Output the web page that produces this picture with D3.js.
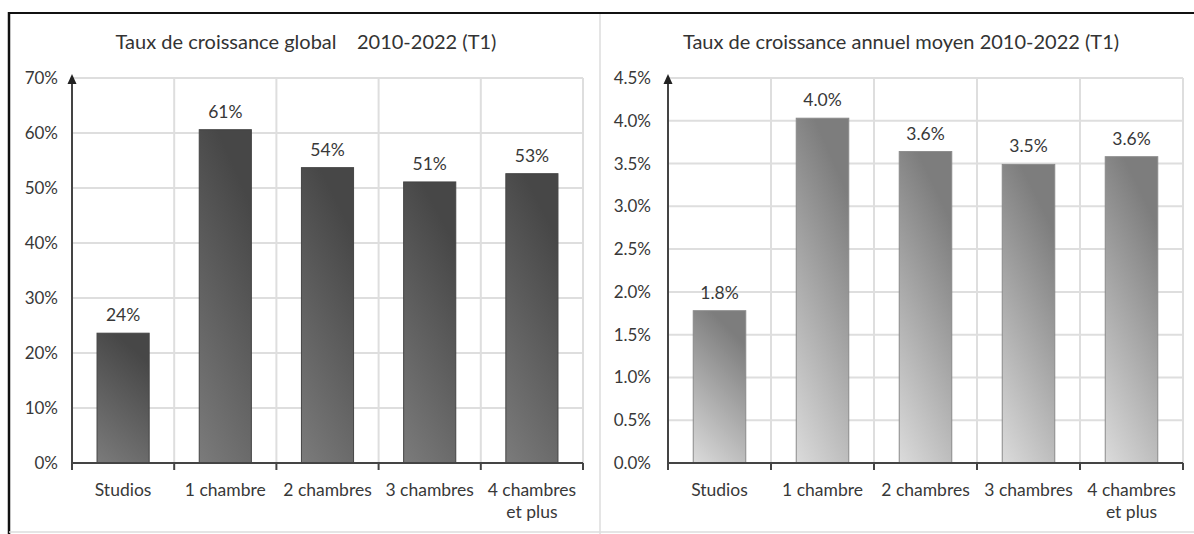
<!DOCTYPE html>
<html>
<head>
<meta charset="utf-8">
<script src="https://cdn.jsdelivr.net/npm/d3@7"></script>
<style>
  body { margin: 0; background: #fff; }
  svg { display: block; font-family: Lato, "Open Sans", sans-serif; }
</style>
</head>
<body>
<div id="chart"></div>
<script>
// data
const categories = ["Studios", "1 chambre", "2 chambres", "3 chambres", "4 chambres et plus"];
const categoryLines = [["Studios"], ["1 chambre"], ["2 chambres"], ["3 chambres"], ["4 chambres", "et plus"]];

const globalGrowth = [0.236, 0.606, 0.537, 0.511, 0.526];
const annualGrowth = [0.0178, 0.0403, 0.0364, 0.0349, 0.0358];

const globalTicks = [0, 0.1, 0.2, 0.3, 0.4, 0.5, 0.6, 0.7];
const annualTicks = [0, 0.005, 0.01, 0.015, 0.02, 0.025, 0.03, 0.035, 0.04, 0.045];

const titleGlobal = "Taux de croissance global\u00a0\u00a0\u00a0 2010-2022 (T1)";
const titleAnnual = "Taux de croissance annuel moyen 2010-2022 (T1)";

const W = 1194, H = 534;
const textColor = "#383838";

const svg = d3.select("#chart").append("svg")
  .attr("width", W)
  .attr("height", H);

const defs = svg.append("defs");

function addGradient(id, top, bottom) {
  const g = defs.append("linearGradient")
    .attr("id", id)
    .attr("x1", 0.35).attr("y1", 0)
    .attr("x2", 0).attr("y2", 1);
  g.append("stop").attr("offset", "0%").attr("stop-color", top);
  g.append("stop").attr("offset", "100%").attr("stop-color", bottom);
}
addGradient("gradDark", "#474747", "#7b7b7b");
addGradient("gradLight", "#7d7d7d", "#dbdbdb");

// frame around the two charts
svg.append("line").attr("x1", 8).attr("x2", W).attr("y1", 13).attr("y2", 13)
  .attr("stroke", "#111").attr("stroke-width", 2);
svg.append("line").attr("x1", 9).attr("x2", 9).attr("y1", 12).attr("y2", H)
  .attr("stroke", "#111").attr("stroke-width", 2.5);
svg.append("line").attr("x1", 9).attr("x2", W).attr("y1", 532).attr("y2", 532)
  .attr("stroke", "#dcdcdc").attr("stroke-width", 1.5);
svg.append("line").attr("x1", 600).attr("x2", 600).attr("y1", 14).attr("y2", H)
  .attr("stroke", "#dcdcdc").attr("stroke-width", 1.5);

function drawChart(cfg) {
  const top = 78, bottom = 463;

  const xScale = d3.scaleBand()
    .domain(categories)
    .range([cfg.left, cfg.right])
    .padding(0);

  const yScale = d3.scaleLinear()
    .domain([0, cfg.max])
    .range([bottom, top]);

  const g = svg.append("g");

  // title
  g.append("text")
    .attr("x", cfg.titleX)
    .attr("y", 49)
    .attr("text-anchor", "middle")
    .attr("font-size", 20)
    .attr("fill", "#333")
    .text(cfg.title);

  // horizontal gridlines
  g.append("g")
    .selectAll("line")
    .data(cfg.ticks.slice(1))
    .enter()
    .append("line")
    .attr("x1", cfg.left).attr("x2", cfg.right)
    .attr("y1", (d) => yScale(d)).attr("y2", (d) => yScale(d))
    .attr("stroke", "#dedede").attr("stroke-width", 2);

  // vertical gridlines at category boundaries
  const bounds = categories.slice(1).map((c) => xScale(c)).concat([cfg.right]);
  g.append("g")
    .selectAll("line")
    .data(bounds)
    .enter()
    .append("line")
    .attr("x1", (d) => d).attr("x2", (d) => d)
    .attr("y1", top).attr("y2", bottom)
    .attr("stroke", "#dedede").attr("stroke-width", 2);

  // bars
  const barW = xScale.bandwidth() * 0.51;
  g.append("g")
    .selectAll("rect")
    .data(cfg.values)
    .enter()
    .append("rect")
    .attr("x", (d, i) => xScale(categories[i]) + (xScale.bandwidth() - barW) / 2)
    .attr("y", (d) => yScale(d))
    .attr("width", barW)
    .attr("height", (d) => bottom - yScale(d))
    .attr("fill", `url(#${cfg.gradient})`)
    .attr("stroke", cfg.barStroke)
    .attr("stroke-width", 1);

  // value labels
  g.append("g")
    .selectAll("text")
    .data(cfg.values)
    .enter()
    .append("text")
    .attr("x", (d, i) => xScale(categories[i]) + xScale.bandwidth() / 2)
    .attr("y", (d) => yScale(d) - 12)
    .attr("text-anchor", "middle")
    .attr("font-size", 17.5)
    .attr("fill", textColor)
    .text((d) => cfg.fmt(d));

  // y axis labels
  const yAxis = d3.axisLeft(yScale)
    .tickValues(cfg.ticks)
    .tickFormat(cfg.fmt)
    .tickSize(0)
    .tickPadding(cfg.labelGap);
  const y_axis_g = g.append("g")
    .attr("transform", `translate(${cfg.left},0)`)
    .call(yAxis);
  y_axis_g.select(".domain").remove();
  y_axis_g.selectAll("text")
    .attr("font-family", "Lato, sans-serif")
    .attr("font-size", 17)
    .attr("fill", textColor);

  // y axis line with arrow head
  g.append("line")
    .attr("x1", cfg.left).attr("x2", cfg.left)
    .attr("y1", bottom).attr("y2", top + 4)
    .attr("stroke", "#444").attr("stroke-width", 2);
  g.append("path")
    .attr("d", `M${cfg.left - 4.5},${top + 6} L${cfg.left},${top - 4} L${cfg.left + 4.5},${top + 6} Z`)
    .attr("fill", "#222");

  // x axis line + tick marks
  g.append("line")
    .attr("x1", cfg.left).attr("x2", cfg.right)
    .attr("y1", bottom).attr("y2", bottom)
    .attr("stroke", "#444").attr("stroke-width", 2);
  g.append("g")
    .selectAll("line")
    .data([cfg.left].concat(bounds))
    .enter()
    .append("line")
    .attr("x1", (d) => d).attr("x2", (d) => d)
    .attr("y1", bottom).attr("y2", bottom + 7)
    .attr("stroke", "#444").attr("stroke-width", 2);

  // category labels (multi-line)
  const catText = g.append("g")
    .selectAll("text")
    .data(categoryLines)
    .enter()
    .append("text")
    .attr("text-anchor", "middle")
    .attr("font-size", 17.5)
    .attr("fill", textColor);
  catText.selectAll("tspan")
    .data((d, i) => d.map((line) => ({ line: line, i: i })))
    .enter()
    .append("tspan")
    .attr("x", (d) => xScale(categories[d.i]) + xScale.bandwidth() / 2)
    .attr("y", (d, j) => 496 + j * 22)
    .text((d) => d.line);
}

drawChart({
  title: titleGlobal,
  titleX: 306,
  left: 72,
  right: 583,
  max: 0.7,
  ticks: globalTicks,
  values: globalGrowth,
  fmt: d3.format(".0%"),
  gradient: "gradDark",
  barStroke: "#444",
  labelGap: 14
});

drawChart({
  title: titleAnnual,
  titleX: 901,
  left: 668,
  right: 1183,
  max: 0.045,
  ticks: annualTicks,
  values: annualGrowth,
  fmt: d3.format(".1%"),
  gradient: "gradLight",
  barStroke: "#8a8a8a",
  labelGap: 17
});
</script>
</body>
</html>
